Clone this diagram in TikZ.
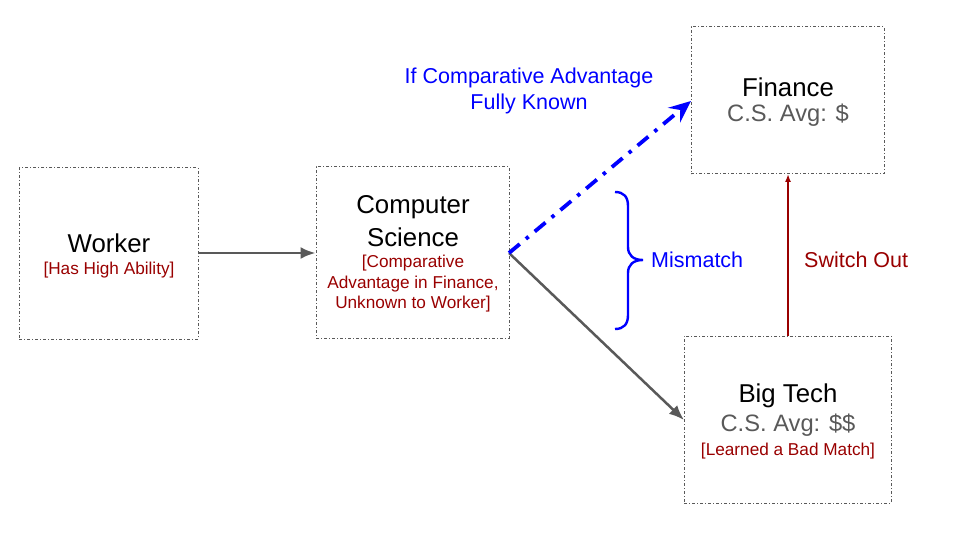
\documentclass[tikz,border=0pt]{standalone}
\usepackage{fontspec}
\setmainfont{Liberation Sans}
\usetikzlibrary{arrows.meta}
\definecolor{dgray}{HTML}{595959}
\definecolor{dred}{HTML}{990000}
\definecolor{bblue}{HTML}{0000FF}
\newcommand{\fsz}[1]{\fontsize{#1pt}{#1pt}\selectfont}
\begin{document}
\begin{tikzpicture}[x=1pt,y=-1pt,
  box/.style={draw=dgray,line width=1pt,dash dot,inner sep=0pt,fill=none},
  main/.style={font=\fsz{25.8}, text=black, inner sep=0pt},
  avg/.style={font=\fsz{23.7}, text=dgray, inner sep=0pt},
  sub/.style={font=\fsz{17.2}, text=dred, inner sep=0pt},
  lbl/.style={font=\fsz{21.5}, inner sep=0pt},
  garrow/.style={draw=dgray,line width=2.5pt,-{Latex[length=15pt,width=12pt]}},
]
\useasboundingbox (0,0) rectangle (960,540);
% boxes
\node[box, minimum width=179pt, minimum height=171pt] (worker) at (108.5,253.5) {};
\node[box, minimum width=193pt, minimum height=171pt] (cs) at (412.5,252.5) {};
\node[box, minimum width=193pt, minimum height=147pt] (fin) at (787.5,100.5) {};
\node[box, minimum width=207pt, minimum height=167pt] (bt) at (787.5,419.5) {};
% texts
\node[main] (tw) at (109,243) {Worker};
\node[sub] (tw2) at (109,270) {[Has High Ability]};
\node[main] (tc1) at (413,207) {Computer};
\node[main] (tc2) at (413,237) {Science};
\node[sub] (tc3) at (413,263) {[Comparative};
\node[sub] (tc4) at (413,284) {Advantage in Finance,};
\node[sub] (tc5) at (413,304) {Unknown to Worker]};
\node[main] (tf1) at (788,87) {Finance};
\node[avg] (tf2) at (788,115) {C.S. Avg: \$};
\node[main] (tb1) at (788,396) {Big Tech};
\node[avg] (tb2) at (788,425) {C.S. Avg: \$\$};
\node[sub] (tb3) at (788,451) {[Learned a Bad Match]};
\node[lbl, text=bblue] (if1) at (529,78) {If Comparative Advantage};
\node[lbl, text=bblue] (if2) at (529,104) {Fully Known};
\node[lbl, text=bblue, anchor=west] (mm) at (651,260) {Mismatch};
\node[lbl, text=dred, anchor=west] (so) at (804,260) {Switch Out};
% coordinates
\coordinate (csR) at (509,253);
\coordinate (finL) at (691,101);
\coordinate (btL) at (684,420);
\coordinate (btT) at (788,336);
\coordinate (finB) at (788,174);
% arrows
\draw[garrow] (worker.east |- csR) -- (cs.west |- csR);
\draw[garrow] (csR) -- (btL);
\draw[draw=bblue,line width=3.8pt,dash pattern=on 14pt off 8pt on 3.5pt off 8pt,-{Stealth[length=22pt,width=19pt,inset=8pt]}] (csR) -- (finL);
\draw[draw=dred,line width=1.5pt,-{Latex[length=8pt,width=6pt]}] (btT) -- (finB);
% brace
\draw[bblue,line width=2.4pt] (615,192) .. controls (624,192) and (628,197) .. (628,206)
  -- (628,247) .. controls (628,255) and (633,260) .. (643,260)
  .. controls (633,260) and (628,265) .. (628,273)
  -- (628,315) .. controls (628,324) and (624,329) .. (615,329);
\end{tikzpicture}
\end{document}
